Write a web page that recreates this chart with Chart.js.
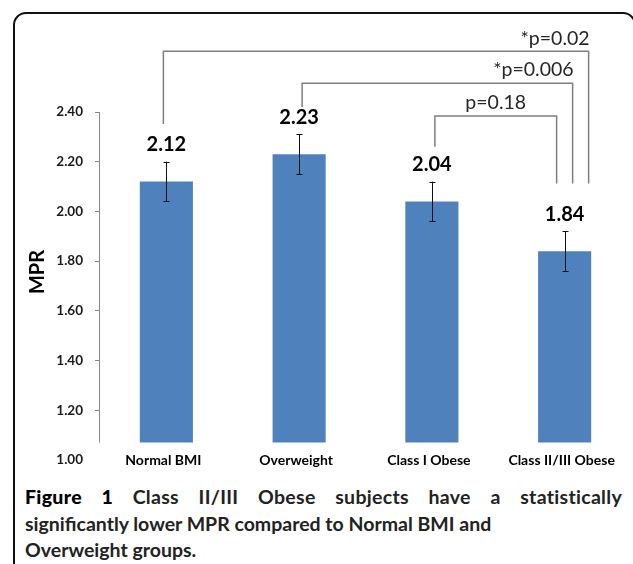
<!DOCTYPE html>
<html>
<head>
<meta charset="utf-8">
<script src="https://cdn.jsdelivr.net/npm/chart.js@4/dist/chart.umd.min.js"></script>
<style>
  html, body { margin:0; padding:0; background:#fff; width:633px; height:564px; overflow:hidden; }
  #frame { position:absolute; left:13px; top:12px; width:623px; height:620px; box-sizing:border-box;
           border:2.5px solid #111; border-radius:13px; }
  #wrap { position:absolute; left:0; top:0; width:633px; height:480px; }
  #caption { position:absolute; left:25px; top:484px; width:597px; font-family:Lato, sans-serif;
             font-weight:700; font-size:19.5px; line-height:26.5px; color:#222; }
  #caption .l1 { text-align:justify; text-align-last:justify; letter-spacing:0.3px; }
  #caption b { color:#000; font-weight:900; }
</style>
</head>
<body>
<div id="frame"></div>
<div id="wrap"><canvas id="c"></canvas></div>
<div id="caption">
  <div class="l1"><b>Figure 1</b> Class II/III Obese subjects have a statistically</div>
  <div>significantly lower MPR compared to Normal BMI and</div>
  <div>Overweight groups.</div>
</div>
<script>
// ---- data ----
const categories = ['Normal BMI', 'Overweight', 'Class I Obese', 'Class II/III Obese'];
const mprValues  = [2.12, 2.23, 2.04, 1.84];
const mprErrors  = [0.08, 0.08, 0.08, 0.08];
const yMin = 1.0, yMax = 2.4, yStep = 0.2;
const barBase = 1.07;

// significance brackets
const pLabels  = ['p=0.18', '*p=0.006', '*p=0.02'];
const pFrom    = [2, 1, 0];
const pTo      = [3, 3, 3];
const pLevel   = [2.384, 2.516, 2.644];
const pFromEnd = [2.26, 2.42, 2.352];
const pToEnd   = [2.112, 2.112, 2.112];

// styling for brackets (pixel nudges / alignment)
const bracketStyle = [
  { fromDx: 3,  toDx: -8, align: 'center' },
  { fromDx: 3,  toDx: 8,  align: 'right' },
  { fromDx: -3, toDx: 24, align: 'right' }
];

const AXIS_GRAY = '#868686';
const FONT = 'Lato, sans-serif';

const overlay = {
  id: 'overlay',
  afterDraw(chart) {
    const { ctx, scales: { x, y } } = chart;
    ctx.save();
    // y axis line from top tick down to bar base
    const ax = Math.round(chart.chartArea.left) - 0.5;
    ctx.strokeStyle = AXIS_GRAY; ctx.lineWidth = 1;
    ctx.beginPath();
    ctx.moveTo(ax, y.getPixelForValue(yMax));
    ctx.lineTo(ax, y.getPixelForValue(barBase));
    ctx.stroke();

    // category labels (aligned with the 1.00 tick label row)
    ctx.fillStyle = '#000';
    ctx.font = 'bold 14px ' + FONT;
    ctx.textAlign = 'center'; ctx.textBaseline = 'middle';
    const rowY = y.getPixelForValue(yMin) + 1;
    categories.forEach((c, i) => ctx.fillText(c, x.getPixelForValue(i) - 3, rowY));

    // error bars
    ctx.strokeStyle = '#111'; ctx.lineWidth = 1;
    mprValues.forEach((v, i) => {
      const cx = Math.round(x.getPixelForValue(i)) + 0.5;
      const yt = y.getPixelForValue(v + mprErrors[i]);
      const yb = y.getPixelForValue(v - mprErrors[i]);
      ctx.beginPath();
      ctx.moveTo(cx, yt); ctx.lineTo(cx, yb);
      ctx.moveTo(cx - 3, Math.round(yt) + 0.5); ctx.lineTo(cx + 3, Math.round(yt) + 0.5);
      ctx.moveTo(cx - 3, Math.round(yb) + 0.5); ctx.lineTo(cx + 3, Math.round(yb) + 0.5);
      ctx.stroke();
    });

    // value labels
    ctx.fillStyle = '#000';
    ctx.font = 'bold 20px ' + FONT;
    ctx.textAlign = 'center'; ctx.textBaseline = 'middle';
    mprValues.forEach((v, i) => {
      const cx = x.getPixelForValue(i);
      const yt = y.getPixelForValue(v + mprErrors[i]);
      ctx.fillText(v.toFixed(2), cx, yt - 17);
    });

    // brackets
    ctx.strokeStyle = '#7f7f7f'; ctx.lineWidth = 1.5;
    ctx.font = '19.5px ' + FONT; ctx.fillStyle = '#262626';
    pLabels.forEach((lab, i) => {
      const st = bracketStyle[i];
      const x1 = x.getPixelForValue(pFrom[i]) + st.fromDx;
      const x2 = x.getPixelForValue(pTo[i]) + st.toDx;
      const yl = y.getPixelForValue(pLevel[i]);
      ctx.beginPath();
      ctx.moveTo(x1, y.getPixelForValue(pFromEnd[i]));
      ctx.lineTo(x1, yl); ctx.lineTo(x2, yl);
      ctx.lineTo(x2, y.getPixelForValue(pToEnd[i]));
      ctx.stroke();
      ctx.textBaseline = 'middle';
      if (st.align === 'center') { ctx.textAlign = 'center'; ctx.fillText(lab, (x1 + x2) / 2, yl - 13); }
      else { ctx.textAlign = 'right'; ctx.fillText(lab, x2 + 1, yl - 13); }
    });

    // y axis title
    ctx.save();
    ctx.translate(38, 272);
    ctx.rotate(-Math.PI / 2);
    ctx.font = 'bold 20px ' + FONT; ctx.fillStyle = '#000';
    ctx.textAlign = 'center'; ctx.textBaseline = 'middle';
    ctx.fillText('MPR', 0, 0);
    ctx.restore();
    ctx.restore();
  }
};

new Chart(document.getElementById('c'), {
  type: 'bar',
  data: {
    labels: categories,
    datasets: [{
      data: mprValues,
      base: barBase,
      backgroundColor: '#4F81BD',
      borderWidth: 0,
      barPercentage: 0.4,
      categoryPercentage: 1.0
    }]
  },
  options: {
    responsive: true,
    maintainAspectRatio: false,
    devicePixelRatio: 1,
    animation: false,
    layout: { padding: { top: 112, right: 2, left: 0, bottom: 0 } },
    plugins: { legend: { display: false }, tooltip: { enabled: false } },
    scales: {
      x: {
        grid: { display: false, drawTicks: false },
        border: { display: false },
        ticks: { display: false },
        afterFit(s) { s.height = 18.3; }
      },
      y: {
        min: yMin, max: yMax,
        grid: {
          drawOnChartArea: false, drawTicks: true, tickLength: 5,
          color: (c) => (c.tick && Math.abs(c.tick.value - yMin) < 1e-6) ? 'rgba(0,0,0,0)' : AXIS_GRAY
        },
        border: { display: false },
        ticks: {
          stepSize: yStep, padding: 12, color: '#1a1a1a',
          font: { family: FONT, weight: 'bold', size: 13.5 },
          callback: (v) => Number(v).toFixed(2)
        },
        afterFit(s) { s.width = 100; }
      }
    }
  },
  plugins: [overlay]
});
</script>
</body>
</html>
